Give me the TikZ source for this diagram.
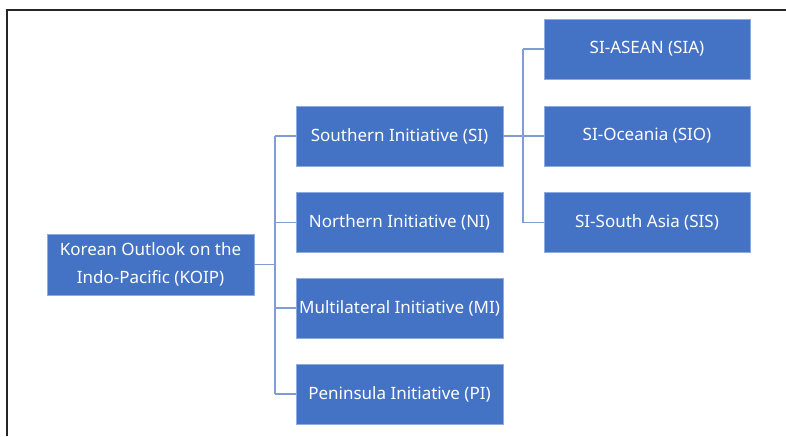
\documentclass[tikz,border=0pt]{standalone}
\usepackage{fontspec}
\setmainfont{Noto Sans}
\usetikzlibrary{positioning}
\definecolor{boxblue}{HTML}{4472C4}
\definecolor{boxedge}{HTML}{8FAADC}
\definecolor{linkblue}{HTML}{7F9DD2}
\tikzset{
  kbox/.style={rectangle, fill=boxblue, draw=boxedge, line width=0.6pt, text=white,
    minimum height=60pt, inner sep=0pt, align=center, font=\fontsize{17}{28}\selectfont},
  link/.style={draw=linkblue, line width=1.1pt}
}

\begin{document}
\begin{tikzpicture}[x=1pt,y=-1pt]
  \useasboundingbox (0,0) rectangle (786,436);

  % frame
  \draw[line width=2pt, black!85] (786,10) -- (7,10) -- (7,436);

  \node[kbox, minimum width=207pt, minimum height=61pt] at (150.5,264.5) (koip) {Korean Outlook on the\\Indo-Pacific (KOIP)};

  \node[kbox, minimum width=207pt] at (399.5,136) (si) {Southern Initiative (SI)};
  \node[kbox, minimum width=207pt] at (399.5,222.5) (ni) {Northern Initiative (NI)};
  \node[kbox, minimum width=207pt] at (399.5,308) (mi) {Multilateral Initiative (MI)};
  \node[kbox, minimum width=207pt] at (399.5,394) (pi) {Peninsula Initiative (PI)};

  \node[kbox, minimum width=206pt] at (647,49) (sia) {SI-ASEAN (SIA)};
  \node[kbox, minimum width=206pt] at (647,136) (sio) {SI-Oceania (SIO)};
  \node[kbox, minimum width=206pt] at (647,222.5) (sis) {SI-South Asia (SIS)};

  \coordinate (trunk) at (275,0);
  \coordinate (subtrunk) at (523,0);

  \draw[link] (koip.east) -- (trunk |- koip.east);
  \foreach \n in {si,ni,mi,pi}
    \draw[link] (trunk |- \n.west) -- (\n.west);
  \draw[link] (trunk |- si.west) -- (trunk |- pi.west);

  \draw[link] (si.east) -- (sio.west);
  \foreach \n in {sia,sis}
    \draw[link] (subtrunk |- \n.west) -- (\n.west);
  \draw[link] (subtrunk |- sia.west) -- (subtrunk |- sis.west);

\end{tikzpicture}
\end{document}
